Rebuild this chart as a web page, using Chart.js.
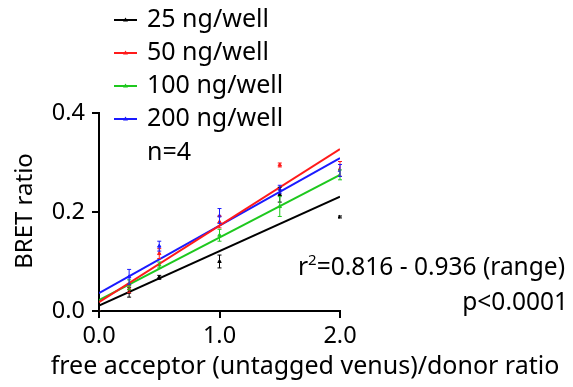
<!DOCTYPE html>
<html>
<head>
<meta charset="utf-8">
<script src="https://cdn.jsdelivr.net/npm/chart.js@4"></script>
<style>
  html, body { margin: 0; padding: 0; background: #fff; }
  #wrap { width: 573px; height: 387px; }
</style>
</head>
<body>
<div id="wrap"><canvas id="chart" width="573" height="387"></canvas></div>
<script>
// acceptor/donor ratio
const ratios = [0, 0.25, 0.5, 1.0, 1.5, 2.0];

// mean BRET ratio per dose
const ng25 = [0, 0.038, 0.068, 0.100, 0.235, 0.190];
const ng50 = [0, 0.045, 0.116, 0.180, 0.295, 0.287];
const ng100 = [0, 0.053, 0.093, 0.153, 0.211, 0.275];
const ng200 = [0, 0.069, 0.131, 0.192, 0.246, 0.284];

// SEM
const err25 = [0, 0.010, 0.004, 0.013, 0.015, 0.002];
const err50 = [0, 0.008, 0.010, 0.012, 0.004, 0.015];
const err100 = [0, 0.010, 0.006, 0.012, 0.020, 0.010];
const err200 = [0, 0.015, 0.010, 0.015, 0.008, 0.012];

// linear fits, value at x = 0 and x = 2
const fitX = [0, 2];
const fit25 = [0.011, 0.231];
const fit50 = [0.018, 0.327];
const fit100 = [0.022, 0.275];
const fit200 = [0.036, 0.309];

const labels = ['25 ng/well', '50 ng/well', '100 ng/well', '200 ng/well'];
const colors = ['#000000', '#ff1a1a', '#1ec81e', '#1a1aff'];
const yTicks = [0, 0.2, 0.4];
const xTicks = [0, 1, 2];

const FONT = '"Noto Sans", sans-serif';

function pts(xs, ys) {
    return xs.map((x, i) => ({ x: x, y: ys[i] }));
}

const means = [ng25, ng50, ng100, ng200];
const errs = [err25, err50, err100, err200];
const fits = [fit25, fit50, fit100, fit200];

const datasets = [];
// fit lines
fits.forEach((f, i) => {
    datasets.push({
        label: labels[i] + ' fit',
        data: pts(fitX, f),
        showLine: true,
        borderColor: colors[i],
        borderWidth: 2,
        pointRadius: 0,
        fill: false
    });
});
// points
means.forEach((m, i) => {
    datasets.push({
        label: labels[i],
        data: pts(ratios, m),
        showLine: false,
        borderColor: colors[i],
        backgroundColor: colors[i],
        pointStyle: 'triangle',
        pointRadius: 2,
        errs: errs[i]
    });
});

// error bars for the point datasets
const errorBars = {
    id: 'errorBars',
    afterDatasetsDraw(chart) {
        const ctx = chart.ctx;
        const xs = chart.scales.x, ys = chart.scales.y;
        chart.data.datasets.forEach(ds => {
            if (!ds.errs) return;
            ctx.save();
            ctx.strokeStyle = ds.borderColor;
            ctx.lineWidth = 1;
            ds.data.forEach((p, i) => {
                const e = ds.errs[i];
                if (!e) return;
                const px = xs.getPixelForValue(p.x);
                const top = ys.getPixelForValue(p.y + e);
                const bot = ys.getPixelForValue(p.y - e);
                ctx.beginPath();
                ctx.moveTo(px, top); ctx.lineTo(px, bot);
                ctx.moveTo(px - 2, top); ctx.lineTo(px + 2, top);
                ctx.moveTo(px - 2, bot); ctx.lineTo(px + 2, bot);
                ctx.stroke();
            });
            ctx.restore();
        });
    }
};

// legend, notes and axis titles
const texts = {
    id: 'texts',
    afterDraw(chart) {
        const ctx = chart.ctx;
        ctx.save();
        ctx.fillStyle = '#000';
        ctx.font = '25px ' + FONT;
        ctx.textBaseline = 'middle';
        const rowY = [20, 53, 86, 119];
        labels.forEach((l, i) => {
            ctx.strokeStyle = colors[i];
            ctx.lineWidth = 2;
            ctx.beginPath();
            ctx.moveTo(114, rowY[i]);
            ctx.lineTo(137, rowY[i]);
            ctx.stroke();
            ctx.fillStyle = colors[i];
            ctx.beginPath();
            ctx.moveTo(125.5, rowY[i] - 2.5);
            ctx.lineTo(128, rowY[i] + 1.5);
            ctx.lineTo(123, rowY[i] + 1.5);
            ctx.closePath();
            ctx.fill();
            ctx.fillStyle = '#000';
            ctx.textAlign = 'left';
            ctx.fillText(l, 147, rowY[i]);
        });
        ctx.fillText('n=4', 147, 153);

        // r squared with superscript
        ctx.font = '24.5px ' + FONT;
        ctx.textAlign = 'left';
        const rest = '=0.816 - 0.936 (range)';
        const wr = ctx.measureText('r').width;
        const wRest = ctx.measureText(rest).width;
        ctx.font = '15px ' + FONT;
        const w2 = ctx.measureText('2').width;
        let x0 = 565 - (wr + w2 + wRest);
        ctx.fillText('2', x0 + wr, 261);
        ctx.font = '24.5px ' + FONT;
        ctx.fillText('r', x0, 268);
        ctx.fillText(rest, x0 + wr + w2, 268);
        ctx.textAlign = 'right';
        ctx.fillText('p<0.0001', 568, 303);

        ctx.font = '25px ' + FONT;
        ctx.textAlign = 'center';
        ctx.fillText('free acceptor (untagged venus)/donor ratio', 305, 367);

        ctx.font = '24px ' + FONT;
        ctx.translate(25, 211);
        ctx.rotate(-Math.PI / 2);
        ctx.fillText('BRET ratio', 0, 0);
        ctx.restore();
    }
};

new Chart(document.getElementById('chart'), {
    type: 'scatter',
    data: { datasets: datasets },
    options: {
        responsive: false,
        animation: false,
        layout: { padding: { left: 0, top: 113, right: 233, bottom: 0 } },
        plugins: { legend: { display: false }, tooltip: { enabled: false } },
        scales: {
            x: {
                type: 'linear',
                min: 0,
                max: 2,
                afterFit(s) { s.height = 76; },
                afterBuildTicks(s) { s.ticks = xTicks.map(v => ({ value: v })); },
                border: { color: '#000', width: 2 },
                grid: { drawOnChartArea: false, color: '#000', lineWidth: 2, tickLength: 7 },
                ticks: {
                    color: '#000',
                    font: { size: 23.5, family: FONT },
                    padding: 4,
                    callback: v => v.toFixed(1)
                }
            },
            y: {
                type: 'linear',
                min: 0,
                max: 0.4,
                afterFit(s) { s.width = 99; },
                afterBuildTicks(s) { s.ticks = yTicks.map(v => ({ value: v })); },
                border: { color: '#000', width: 2 },
                grid: { drawOnChartArea: false, color: '#000', lineWidth: 2, tickLength: 7 },
                ticks: {
                    color: '#000',
                    font: { size: 23.5, family: FONT },
                    padding: 7,
                    callback: v => v.toFixed(1)
                }
            }
        }
    },
    plugins: [errorBars, texts]
});
</script>
</body>
</html>
